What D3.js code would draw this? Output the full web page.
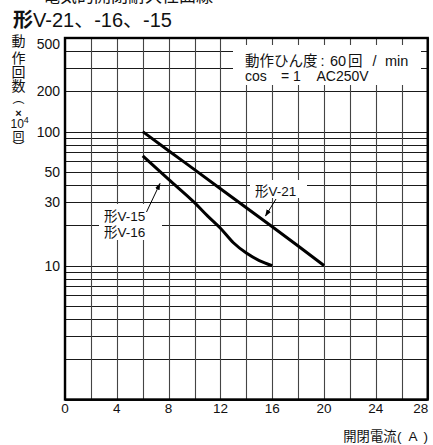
<!DOCTYPE html>
<html><head><meta charset="utf-8">
<script src="https://cdn.jsdelivr.net/npm/d3@7"></script>
<style>
html,body{margin:0;padding:0;background:#fff;}
svg{display:block;}
text{font-family:"Liberation Sans",Arial,"Noto Sans CJK JP",sans-serif;fill:#111;}
</style></head><body>
<script>
// ---- data ----
const xTickValues = [0, 4, 8, 12, 16, 20, 24, 28];
const xGridValues = [0, 2, 4, 6, 8, 10, 12, 14, 16, 18, 20, 22, 24, 26, 28];
const yTickValues = [500, 200, 100, 50, 30, 10];
const yGridValues = [1, 2, 3, 4, 5, 6, 7, 8, 9, 10, 20, 30, 40, 50, 60, 70, 80, 90, 100, 200, 300, 400, 500];
const v21Current = [6, 8, 10, 12, 14, 16, 18, 20];
const v21Life = [100, 72, 52, 37.5, 27, 19.5, 14, 10];
const v15Current = [6, 8, 10, 11, 12, 13, 14, 15, 16];
const v15Life = [66, 44, 29.5, 23.5, 19, 14.8, 12.4, 10.9, 10];
const titleText = "V-21、-16、-15";
const yLabelChars = ["動", "作", "回", "数"];

const W = 433, H = 445;
const svg = d3.select("body").append("svg").attr("width", W).attr("height", H);

const x = d3.scaleLinear().domain([0, 28]).range([65, 427.7]);
const y = d3.scaleLog().domain([1, 500]).range([399.5, 38]);

const CJK = '"Noto Sans CJK JP","Liberation Sans",sans-serif';
const LAT = '"Liberation Sans",Arial,sans-serif';

// clipped top text
svg.append("text").attr("x", 43).attr("y", 2).style("font-family", CJK)
  .style("font-size", "17px").text("電気的開閉耐久性曲線");

// title
const t = svg.append("text").attr("x", 13).attr("y", 27.3).style("font-size", "20px");
t.append("tspan").style("font-family", CJK).style("font-weight", "bold").text("形");
t.append("tspan").text(titleText);

// grid
const g = svg.append("g");
g.selectAll("line.h").data(yGridValues).join("line")
  .attr("x1", x(0)).attr("x2", x(28))
  .attr("y1", d => Math.round(y(d)) + 0.5).attr("y2", d => Math.round(y(d)) + 0.5)
  .attr("stroke", "#1a1a1a").attr("stroke-width", 1.1);
g.selectAll("line.v").data(xGridValues).join("line")
  .attr("y1", y(500)).attr("y2", y(1))
  .attr("x1", d => Math.round(x(d)) + 0.5).attr("x2", d => Math.round(x(d)) + 0.5)
  .attr("stroke", "#444").attr("stroke-width", 1.1);

// white boxes for labels
svg.append("rect").attr("x", 233).attr("y", 45).attr("width", 188).attr("height", 40).attr("fill", "#fff");
svg.append("rect").attr("x", 250).attr("y", 180).attr("width", 57).attr("height", 18).attr("fill", "#fff");
svg.append("rect").attr("x", 99).attr("y", 204).attr("width", 63).attr("height", 36).attr("fill", "#fff");

// curves
const line = d3.line().x(d => x(d[0])).y(d => y(d[1])).curve(d3.curveMonotoneX);
svg.append("path").datum(d3.zip(v21Current, v21Life)).attr("d", line)
  .attr("fill", "none").attr("stroke", "#000").attr("stroke-width", 3);
svg.append("path").datum(d3.zip(v15Current, v15Life)).attr("d", line)
  .attr("fill", "none").attr("stroke", "#000").attr("stroke-width", 3);

// frame
svg.append("rect").attr("x", x(0)).attr("y", y(500)).attr("width", x(28) - x(0)).attr("height", y(1) - y(500))
  .attr("fill", "none").attr("stroke", "#000").attr("stroke-width", 2.4);

// axis tick labels
svg.append("g").selectAll("text").data(xTickValues).join("text")
  .attr("x", d => d === 28 ? x(d) + 0.5 : x(d)).attr("y", 413)
  .attr("text-anchor", d => d === 28 ? "end" : "middle")
  .style("font-size", "13.5px").text(d => d);
svg.append("g").selectAll("text").data(yTickValues).join("text")
  .attr("x", 60).attr("y", d => Math.max(y(d), 43.5) + 5).attr("text-anchor", "end")
  .style("font-size", "14px").text(d => d);

// x axis title
svg.append("text").attr("x", 396.5).attr("y", 441).attr("text-anchor", "end")
  .style("font-family", CJK).style("font-size", "13.3px").text("開閉電流");
svg.append("text").attr("x", 397).attr("y", 441).style("font-family", LAT).style("font-size", "13.5px").text("(");
svg.append("text").attr("x", 413).attr("y", 441).attr("text-anchor", "middle").style("font-family", LAT).style("font-size", "13.5px").text("A");
svg.append("text").attr("x", 423.5).attr("y", 441).style("font-family", LAT).style("font-size", "13.5px").text(")");

// y axis title (vertical stack)
const yl = svg.append("g").style("font-family", CJK);
const cy = [41, 57.5, 71.5, 86];
yLabelChars.forEach((c, i) => {
  yl.append("text").attr("x", 18.5).attr("y", cy[i] + 5).attr("text-anchor", "middle")
    .style("font-size", "14px").text(c);
});
yl.append("text").attr("x", 18.5).attr("y", 103).attr("text-anchor", "middle").style("font-size", "12px").text("︵");
yl.append("text").attr("x", 18.5).attr("y", 116.5).attr("text-anchor", "middle")
  .style("font-family", LAT).style("font-weight", "bold").style("font-size", "11px").text("×");
const ten = yl.append("text").attr("x", 10.5).attr("y", 128).style("font-family", LAT).style("font-size", "12px");
ten.append("tspan").text("10");
ten.append("tspan").attr("dy", -5).style("font-size", "9px").text("4");
yl.append("text").attr("x", 18.5).attr("y", 140.5).attr("text-anchor", "middle").style("font-size", "12px").text("回");
yl.append("text").attr("x", 18.5).attr("y", 152).attr("text-anchor", "middle").style("font-size", "12px").text("︶");

// legend text
svg.append("text").attr("x", 245).attr("y", 66).style("font-family", CJK).style("font-size", "14.5px").text("動作ひん度");
svg.append("text").attr("x", 320.5).attr("y", 66).style("font-size", "14.5px").text(":");
svg.append("text").attr("x", 330).attr("y", 66).style("font-size", "14.5px").text("60");
svg.append("text").attr("x", 348).attr("y", 66).style("font-family", CJK).style("font-size", "14.5px").text("回");
svg.append("text").attr("x", 372.5).attr("y", 66).style("font-size", "14.5px").text("/");
svg.append("text").attr("x", 385).attr("y", 66).style("font-size", "14.5px").text("min");
svg.append("text").attr("x", 245).attr("y", 80.5).style("font-size", "14px").text("cos");
svg.append("text").attr("x", 281).attr("y", 80.5).style("font-size", "14px").text("=");
svg.append("text").attr("x", 293).attr("y", 80.5).style("font-size", "14px").text("1");
svg.append("text").attr("x", 316.5).attr("y", 80.5).style("font-size", "14px").text("AC250V");

// curve labels
const lab = (tx, ty, s) => {
  const tt = svg.append("text").attr("x", tx).attr("y", ty).style("font-size", "13.5px");
  tt.append("tspan").style("font-family", CJK).text("形");
  tt.append("tspan").text(s);
};
lab(255, 195.5, "V-21");
lab(104, 221, "V-15");
lab(104, 236.5, "V-16");

// arrows
const defs = svg.append("defs");
defs.append("marker").attr("id", "ah").attr("viewBox", "0 0 10 10").attr("refX", 9).attr("refY", 5)
  .attr("markerWidth", 7).attr("markerHeight", 7).attr("orient", "auto")
  .append("path").attr("d", "M0,1.5 L10,5 L0,8.5 Z").attr("fill", "#000");
svg.append("line").attr("x1", 276).attr("y1", 199).attr("x2", 265.5).attr("y2", 216)
  .attr("stroke", "#000").attr("stroke-width", 1).attr("marker-end", "url(#ah)");
svg.append("line").attr("x1", 146.5).attr("y1", 212).attr("x2", 160).attr("y2", 183.5)
  .attr("stroke", "#000").attr("stroke-width", 1).attr("marker-end", "url(#ah)");
</script>
</body></html>
